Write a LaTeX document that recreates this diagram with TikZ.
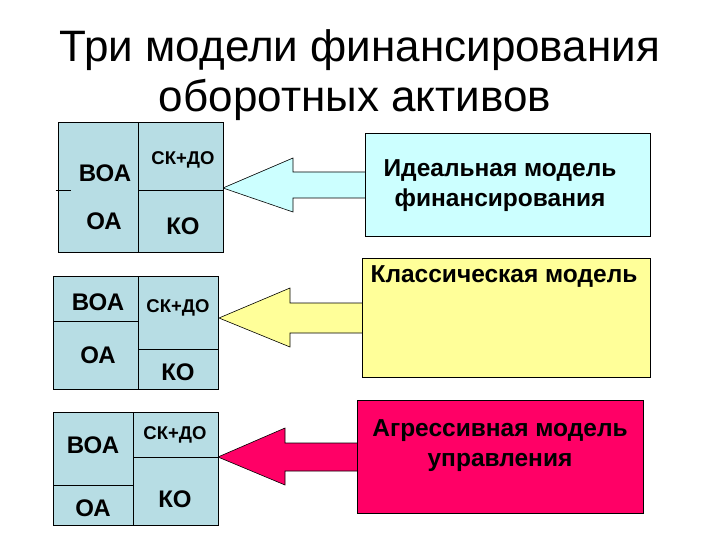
\documentclass[tikz,border=0pt]{standalone}
\usepackage{fontspec}
\setmainfont{Liberation Sans}
\usetikzlibrary{fit}
\definecolor{blockfill}{RGB}{183,221,228}
\definecolor{idealfill}{RGB}{204,255,255}
\definecolor{classfill}{RGB}{255,255,153}
\definecolor{aggrfill}{RGB}{255,0,102}
\tikzset{
  cell/.style={draw=black, line width=0.8pt, fill=blockfill, inner sep=0pt, rectangle},
  modelbox/.style={draw=black, line width=0.8pt, inner sep=0pt, rectangle},
  bigarrow/.style={draw=black, line width=0.6pt, line join=miter},
  celltext/.style={font=\bfseries\fontsize{24}{28}\selectfont, inner sep=0pt},
  smalltext/.style={font=\bfseries\fontsize{18.5}{22}\selectfont, inner sep=0pt},
  boxtext/.style={font=\bfseries\fontsize{24.5}{30}\selectfont, align=center, inner sep=0pt},
  titletext/.style={font=\fontsize{44}{52}\selectfont, inner sep=0pt, anchor=base},
  divider/.style={draw=black, line width=0.8pt}
}
\begin{document}
\begin{tikzpicture}[x=1pt,y=-1pt]
\useasboundingbox (0,0) rectangle (720,540);
\fill[white] (0,0) rectangle (720,540);

% title
\node[titletext] (title1) at (360,62) {Три модели финансирования};
\node[titletext] (title2) at (355,112) {оборотных активов};

% ---------- arrows (drawn first, boxes cover shaft ends) ----------
\coordinate (tip1) at (223,188);
\coordinate (tip2) at (219,318);
\coordinate (tip3) at (218,457);
\filldraw[bigarrow, fill=idealfill] (tip1) -- (293,158) -- (293,172) -- (366,172) -- (366,198) -- (293,198) -- (293,212) -- cycle;
\filldraw[bigarrow, fill=classfill] (tip2) -- (290,288) -- (290,303) -- (363,303) -- (363,333) -- (290,333) -- (290,347) -- cycle;
\filldraw[bigarrow, fill=aggrfill] (tip3) -- (285,428) -- (285,443) -- (358,443) -- (358,471) -- (285,471) -- (285,485) -- cycle;

% ---------- model boxes ----------
\node[modelbox, fill=idealfill, fit={(365,133)(650,236)}] (ideal) {};
\node[modelbox, fill=classfill, fit={(362,258)(650,377)}] (classic) {};
\node[modelbox, fill=aggrfill, fit={(357,400)(643,513)}] (aggr) {};
\node[boxtext] (idealtxt) at (500,186) {Идеальная модель\\финансирования};
\node[boxtext] (classtxt) at (504,277) {Классическая модель};
\node[boxtext] (aggrtxt) at (500,446) {Агрессивная модель\\управления};

% ---------- block 1 (ideal) ----------
\node[cell, fit={(58,122)(138,252)}] (b1l) {};
\node[cell, fit={(138,122)(223,190)}] (b1rt) {};
\node[cell, fit={(138,190)(223,252)}] (b1rb) {};
\coordinate (b1tick) at (71,190);
\draw[divider] (b1l.west |- b1tick) ++(-2,0) -- (b1tick);
\node[celltext] (b1voa) at (105,173) {ВОА};
\node[celltext] (b1oa) at (104,221) {ОА};
\node[smalltext] (b1skdo) at (183,160) {СК+ДО};
\node[celltext] (b1ko) at (183,226) {КО};

% ---------- block 2 (classic) ----------
\node[cell, fit={(53,276)(138,321)}] (b2lt) {};
\node[cell, fit={(53,321)(138,389)}] (b2lb) {};
\node[cell, fit={(138,276)(218,349)}] (b2rt) {};
\node[cell, fit={(138,349)(218,389)}] (b2rb) {};
\node[celltext] (b2voa) at (98,302) {ВОА};
\node[celltext] (b2oa) at (98,355) {ОА};
\node[smalltext] (b2skdo) at (178,308) {СК+ДО};
\node[celltext] (b2ko) at (178,372) {КО};

% ---------- block 3 (aggressive) ----------
\node[cell, fit={(53,412)(133,485)}] (b3lt) {};
\node[cell, fit={(53,485)(133,525)}] (b3lb) {};
\node[cell, fit={(133,412)(218,457)}] (b3rt) {};
\node[cell, fit={(133,457)(218,525)}] (b3rb) {};
\node[celltext] (b3voa) at (93,445) {ВОА};
\node[celltext] (b3oa) at (93,508) {ОА};
\node[smalltext] (b3skdo) at (175,435) {СК+ДО};
\node[celltext] (b3ko) at (175,499) {КО};
\end{tikzpicture}
\end{document}
